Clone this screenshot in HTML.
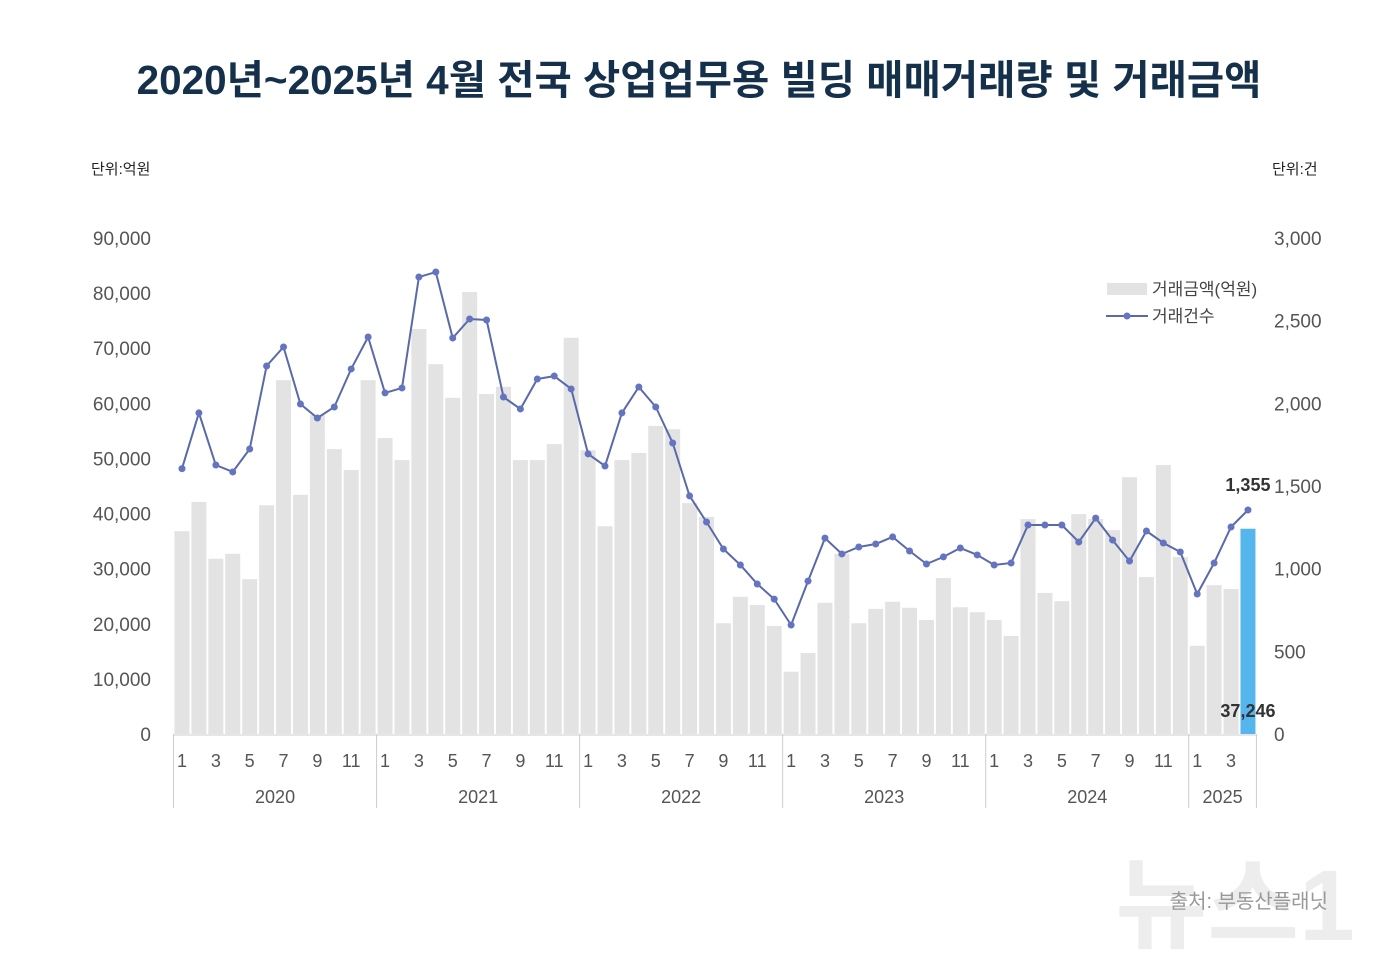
<!DOCTYPE html>
<html><head><meta charset="utf-8">
<style>
body{margin:0;background:#fff;}
svg text{font-family:"Liberation Sans","Noto Sans CJK KR",sans-serif;}
</style></head>
<body>
<svg width="1400" height="973" viewBox="0 0 1400 973" xmlns="http://www.w3.org/2000/svg" id="chart">
<rect width="1400" height="973" fill="#fff"/>
<text x="699" y="94" text-anchor="middle" font-size="40.5" font-weight="bold" fill="#15304b">2020년~2025년 4월 전국 상업업무용 빌딩 매매거래량 및 거래금액</text>
<text x="91" y="174" font-size="15" fill="#222">단위:억원</text>
<text x="1272" y="174" font-size="15" fill="#222">단위:건</text>
<g id="grid"></g><g id="bars"></g><g id="line"></g><g id="axes"></g>
<g>
<rect x="1107" y="283" width="40" height="12" fill="#e3e3e3"/>
<text x="1152" y="295" font-size="17" fill="#444">거래금액(억원)</text>
<line x1="1106" y1="316" x2="1148" y2="316" stroke="#5a6aa8" stroke-width="2"/>
<circle cx="1127" cy="316" r="3.5" fill="#6474c0"/>
<text x="1152" y="322" font-size="17" fill="#444">거래건수</text>
</g>
<text x="1235" y="940" text-anchor="middle" font-size="100" font-weight="bold" fill="#000" fill-opacity="0.07">뉴스1</text>
<text x="1328" y="908" text-anchor="end" font-size="20" fill="#999">출처: 부동산플래닛</text>
</svg>
<script>
const months=[1,2,3,4,5,6,7,8,9,10,11,12,1,2,3,4,5,6,7,8,9,10,11,12,1,2,3,4,5,6,7,8,9,10,11,12,1,2,3,4,5,6,7,8,9,10,11,12,1,2,3,4,5,6,7,8,9,10,11,12,1,2,3,4];
const years=["2020","2021","2022","2023","2024","2025"];
const amounts=[36800,42100,31800,32700,28100,41500,64200,43400,57900,51700,47900,64200,
53700,49700,73500,67100,61000,80200,61700,63000,49700,49700,52600,71900,
51500,37700,49700,51000,55900,55300,41900,39400,20100,24900,23400,19600,
11300,14700,23800,32700,20100,22700,24000,22900,20700,28300,23000,22100,
20700,17800,39000,25600,24100,39900,39000,37000,46600,28500,48800,32100,
16000,27000,26300,37246];
const counts=[1605,1942,1627,1585,1724,2226,2341,1996,1911,1978,2208,2401,
2063,2093,2764,2794,2395,2510,2504,2038,1966,2147,2165,2087,
1694,1621,1942,2099,1978,1760,1440,1282,1119,1022,907,816,
659,925,1185,1089,1131,1149,1192,1107,1028,1071,1125,1083,
1022,1034,1264,1264,1264,1161,1306,1173,1046,1228,1155,1101,
847,1034,1252,1355];
const leftTicks=[0,10000,20000,30000,40000,50000,60000,70000,80000,90000];
const rightTicks=[0,500,1000,1500,2000,2500,3000];
const NS="http://www.w3.org/2000/svg";
const y0=734,yTop=238,x0=182,step=16.92;
const yL=v=>y0-(v/90000)*(y0-yTop);
const yR=v=>y0-(v/3000)*(y0-yTop);
const xI=i=>x0+i*step;
function mk(tag,attrs,parent){const e=document.createElementNS(NS,tag);for(const k in attrs)e.setAttribute(k,attrs[k]);document.getElementById(parent).appendChild(e);return e;}
const fmt=v=>v.toLocaleString('en-US');
leftTicks.forEach(v=>{const t=mk('text',{x:151,y:yL(v)+7,'text-anchor':'end','font-size':19,fill:'#555'},'axes');t.textContent=fmt(v);

});
rightTicks.forEach(v=>{const t=mk('text',{x:1274,y:yR(v)+7,'font-size':19,fill:'#555'},'axes');t.textContent=fmt(v);

});
amounts.forEach((v,i)=>{const last=i===amounts.length-1;const r=mk('rect',{x:xI(i)-7.5,y:yL(v),width:15,height:y0-yL(v),fill:last?'#55b6ee':'#e3e3e3'},'bars');

});
mk('line',{x1:174,y1:y0+1,x2:1257,y2:y0+1,stroke:'#ccc','stroke-width':1},'axes');
const pts=counts.map((v,i)=>xI(i).toFixed(1)+','+yR(v).toFixed(1)).join(' ');
const pl=mk('polyline',{points:pts,fill:'none',stroke:'#5a6aa8','stroke-width':2},'line');


counts.forEach((v,i)=>{const c=mk('circle',{cx:xI(i),cy:yR(v),r:3.5,fill:'#6474c0'},'line');

});
months.forEach((m,i)=>{if(m%2===1){const t=mk('text',{x:xI(i),y:767,'text-anchor':'middle','font-size':18,fill:'#555'},'axes');t.textContent=m;

}});
years.forEach((y,k)=>{const s=k*12,e=Math.min(s+11,months.length-1);const xs=xI(s)-step/2,xe=xI(e)+step/2;
mk('line',{x1:xs,y1:y0,x2:xs,y2:808,stroke:'#ccc'},'axes');
if(k===years.length-1)mk('line',{x1:xe,y1:y0,x2:xe,y2:808,stroke:'#ccc'},'axes');
const t=mk('text',{x:(xs+xe)/2,y:803,'text-anchor':'middle','font-size':18,fill:'#555'},'axes');t.textContent=y;

});
const n=counts.length-1;
const a=mk('text',{x:xI(n),y:yR(counts[n])-19,'text-anchor':'middle','font-size':18,'font-weight':'bold',fill:'#333'},'line');a.textContent=fmt(counts[n]);


const b=mk('text',{x:xI(n),y:717,'text-anchor':'middle','font-size':18,'font-weight':'bold',fill:'#333'},'line');b.textContent=fmt(amounts[n]);


</script>
</body></html>
